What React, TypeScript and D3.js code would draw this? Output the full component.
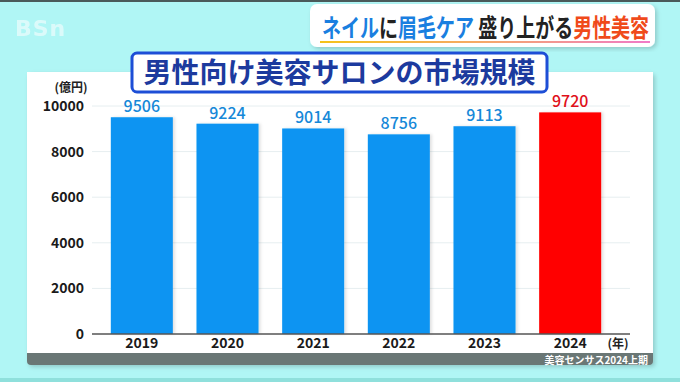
import React from "react";
import * as d3 from "d3";

const years = ["2019", "2020", "2021", "2022", "2023", "2024"];
const values = [9506, 9224, 9014, 8756, 9113, 9720];
const highlightYear = "2024";
const yTicks = [0, 2000, 4000, 6000, 8000, 10000];
const titleText = "男性向け美容サロンの市場規模";
const headlineParts = [
  { t: "ネイル", c: "#1a7fe0" },
  { t: "に", c: "#222" },
  { t: "眉毛ケア", c: "#1a7fe0" },
  { t: " 盛り上がる", c: "#222" },
  { t: "男性美容", c: "#f04a1a" },
];
const unitLabel = "(億円)";
const xUnitLabel = "(年)";
const sourceText = "美容センサス2024上期";

const W = 680;
const H = 382;
const FONT = "'Noto Sans CJK JP', 'Noto Sans', sans-serif";

export default function App() {
  const x = d3.scaleBand<string>().domain(years).range([99, 613]).paddingInner(0.276).paddingOuter(0.138);
  const y = d3.scaleLinear().domain([0, 10000]).range([334, 106]);

  return (
    <svg
      width={W}
      height={H}
      style={{ position: "absolute", left: 0, top: 0 }}
      fontFamily={FONT}
    >
      <defs>
        <linearGradient id="ul" x1="0" x2="1">
          <stop offset="0" stopColor="#f5c21a" />
          <stop offset="0.5" stopColor="#f5a86a" />
          <stop offset="1" stopColor="#f07ac8" />
        </linearGradient>
        <filter id="sh" x="-5%" y="-5%" width="110%" height="115%">
          <feDropShadow dx="2" dy="2" stdDeviation="2" floodColor="#000" floodOpacity="0.18" />
        </filter>
        <filter id="bsh" x="-10%" y="-5%" width="125%" height="110%">
          <feDropShadow dx="2" dy="0" stdDeviation="1.5" floodColor="#000" floodOpacity="0.12" />
        </filter>
      </defs>
      <rect x={0} y={0} width={W} height={H} fill="#b0f6f5" />
      <rect x={0} y={0} width={W} height={2} fill="#4a5a5a" />
      <rect x={0} y={378} width={W} height={4} fill="#8fe0dc" />

      {/* logo */}
      <text x={15} y={36} fontSize={22} fontWeight={700} fill="#ffffff" opacity={0.55} fontFamily="'DejaVu Sans', sans-serif" letterSpacing={1}>
        BSn
      </text>

      {/* headline box */}
      <rect x={310} y={4} width={345} height={43} rx={7} fill="#ffffff" filter="url(#sh)" />
      <g transform="translate(322,37) scale(0.76,1)">
        <text x={0} y={0} fontSize={25} fontWeight={700}>
          {headlineParts.map((p, i) => (
            <tspan key={i} fill={p.c}>{p.t}</tspan>
          ))}
        </text>
      </g>
      <rect x={320} y={41} width={330} height={2} fill="url(#ul)" />

      {/* panel */}
      <rect x={27} y={72} width={626} height={293} rx={4} fill="#6b7775" filter="url(#sh)" />
      <rect x={27} y={72} width={626} height={281} fill="#ffffff" />
      <text x={648} y={364} fontSize={10} fontWeight={700} fill="#ffffff" textAnchor="end">
        {sourceText}
      </text>

      {/* title box */}
      <rect x={132} y={53} width={415} height={39} rx={5} fill="#ffffff" stroke="#1d4ed6" strokeWidth={3} />
      <text x={339.5} y={83} fontSize={28} fontWeight={700} fill="#1c3a9e" textAnchor="middle">
        {titleText}
      </text>

      {/* gridlines */}
      {yTicks.filter((t) => t > 0).map((t) => (
        <line key={t} x1={92} x2={630} y1={y(t)} y2={y(t)} stroke="#e6eef0" strokeWidth={1} />
      ))}
      {/* y tick labels */}
      {yTicks.map((t) => (
        <text key={t} x={84} y={y(t) + 5} fontSize={14} fontWeight={700} fill="#1a1a1a" textAnchor="end">
          {t}
        </text>
      ))}
      <text x={71} y={92} fontSize={12} fontWeight={700} fill="#222" textAnchor="middle">
        {unitLabel}
      </text>

      {/* bars */}
      {years.map((yr, i) => {
        const hl = yr === highlightYear;
        const v = values[i];
        return (
          <g key={yr}>
            <rect
              x={x(yr)}
              y={y(v)}
              width={x.bandwidth()}
              height={y(0) - y(v)}
              fill={hl ? "#ff0000" : "#0994f2"}
              filter="url(#bsh)"
            />
            <text
              x={(x(yr) as number) + x.bandwidth() / 2}
              y={y(v) - 5}
              fontSize={16}
              fontWeight={500}
              fill={hl ? "#e0101a" : "#1688d8"}
              textAnchor="middle"
            >
              {v}
            </text>
            <text
              x={(x(yr) as number) + x.bandwidth() / 2}
              y={348}
              fontSize={14}
              fontWeight={700}
              fill="#1a1a1a"
              textAnchor="middle"
            >
              {yr}
            </text>
          </g>
        );
      })}
      <line x1={92} x2={630} y1={y(0)} y2={y(0)} stroke="#555" strokeWidth={1.5} />
      <text x={618} y={348} fontSize={12} fontWeight={700} fill="#222" textAnchor="middle">
        {xUnitLabel}
      </text>
    </svg>
  );
}
